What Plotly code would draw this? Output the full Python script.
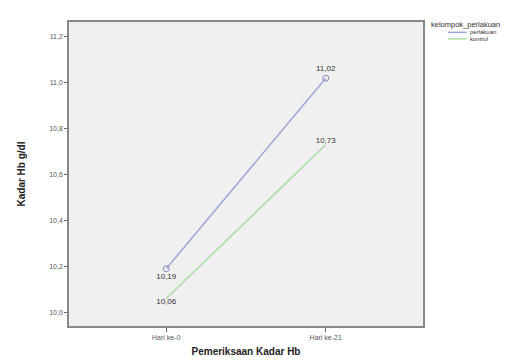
import plotly.graph_objects as go

categories = ["Hari ke-0", "Hari ke-21"]
perlakuan = [10.19, 11.02]
kontrol = [10.06, 10.73]
y_ticks = [10.0, 10.2, 10.4, 10.6, 10.8, 11.0, 11.2]
series_names = ["perlakuan", "kontrol"]
series_colors = ["#9ba7d8", "#a9dca2"]

x_idx = list(range(len(categories)))

fig = go.Figure()
fig.add_trace(go.Scatter(
    x=x_idx, y=perlakuan, name=series_names[0], mode="lines+markers+text",
    line=dict(color=series_colors[0], width=1.5),
    marker=dict(symbol="circle-open", size=6, color="#8088b8", line=dict(width=1)),
    text=[f"{v:.2f}".replace(".", ",") for v in perlakuan],
    textposition=["bottom center", "top center"],
    textfont=dict(size=8, color="#333333", family="Liberation Sans"),
    showlegend=False,
))
fig.add_trace(go.Scatter(
    x=x_idx, y=kontrol, name=series_names[1], mode="lines+text",
    line=dict(color=series_colors[1], width=1.5),
    text=[f"{v:.2f}".replace(".", ",") for v in kontrol],
    textposition=["bottom center", "top center"],
    textfont=dict(size=8, color="#333333", family="Liberation Sans"),
    showlegend=False,
))

# legend drawn manually (compact SPSS style)
W, H, L, R, T, B = 528, 360, 60, 113, 12, 40
pw, ph = W - L - R, H - T - B
def px(x): return (x - L) / pw
def py(y): return (H - B - y) / ph

annotations = [dict(text="kelompok_perlakuan", x=px(421), y=py(15), xref="paper", yref="paper",
                    xanchor="left", yanchor="middle", showarrow=False,
                    font=dict(size=7.5, color="#333333"))]
shapes = []
for i, (nm, col) in enumerate(zip(series_names, series_colors)):
    yy = 22.5 + i * 6.5
    shapes.append(dict(type="line", xref="paper", yref="paper",
                       x0=px(440), x1=px(459), y0=py(yy), y1=py(yy),
                       line=dict(color=col, width=1.5)))
    annotations.append(dict(text=nm, x=px(460), y=py(yy), xref="paper", yref="paper",
                            xanchor="left", yanchor="middle", showarrow=False,
                            font=dict(size=6, color="#333333")))

fig.update_layout(
    width=W, height=H,
    margin=dict(l=L, r=R, t=T, b=B),
    paper_bgcolor="white",
    plot_bgcolor="#f0f0f0",
    separators=",.",
    showlegend=False,
    annotations=annotations,
    shapes=shapes,
    font=dict(family="Liberation Sans", size=7, color="#444444"),
    xaxis=dict(
        range=[-0.61, 1.61],
        tickvals=x_idx, ticktext=categories,
        showgrid=False, zeroline=False,
        showline=True, linecolor="#888888", linewidth=1.5, mirror=True,
        ticks="outside", ticklen=4, tickcolor="#666666",
        tickfont=dict(size=7, color="#555555"),
        title=dict(text="<b>Pemeriksaan Kadar Hb</b>",
                   font=dict(size=10, color="#222222"), standoff=8),
    ),
    yaxis=dict(
        range=[9.94, 11.265],
        tickvals=y_ticks, tickformat=".1f",
        showgrid=False, zeroline=False,
        showline=True, linecolor="#888888", linewidth=1.5, mirror=True,
        ticks="outside", ticklen=3, tickcolor="#666666",
        tickfont=dict(size=7, color="#555555"),
        title=dict(text="<b>Kadar Hb g/dl</b>",
                   font=dict(size=10, color="#222222"), standoff=22),
    ),
)

fig.write_html("out.html")
